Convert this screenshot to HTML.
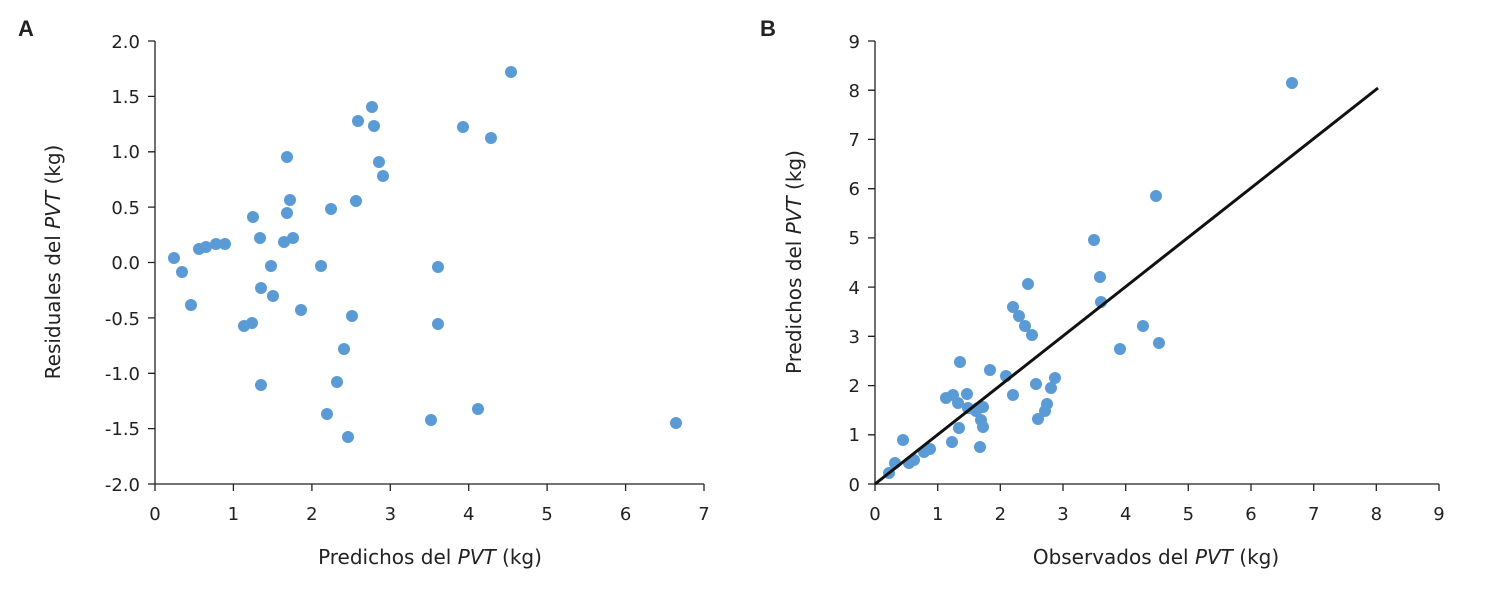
<!DOCTYPE html>
<html><head><meta charset="utf-8"><style>
html,body{margin:0;padding:0;background:#fff}
svg text{font-family:"DejaVu Sans","Liberation Sans",sans-serif;fill:#222}
</style></head><body>
<svg width="1487" height="585" viewBox="0 0 1487 585" xmlns="http://www.w3.org/2000/svg">
<g font-size="18">
<text x="18" y="36" font-weight="bold" font-size="22" style="font-family:'Liberation Sans',sans-serif">A</text>
<text x="760" y="36" font-weight="bold" font-size="22" style="font-family:'Liberation Sans',sans-serif">B</text>
</g>
<!-- Panel A axes -->
<g stroke="#222" stroke-width="1.3" fill="none">
<line x1="155" y1="41" x2="155" y2="484"/>
<line x1="155" y1="484" x2="704" y2="484"/>
<path d="M148 41H155M148 96.4H155M148 151.8H155M148 207.1H155M148 262.5H155M148 317.9H155M148 373.3H155M148 428.6H155M148 484H155"/>
<path d="M155 484V491M233.4 484V491M311.9 484V491M390.3 484V491M468.7 484V491M547.1 484V491M625.6 484V491M704 484V491"/>
</g>
<g font-size="18" text-anchor="end">
<text x="140" y="48">2.0</text><text x="140" y="103">1.5</text><text x="140" y="158">1.0</text><text x="140" y="214">0.5</text><text x="140" y="269">0.0</text><text x="140" y="325">-0.5</text><text x="140" y="380">-1.0</text><text x="140" y="435">-1.5</text><text x="140" y="491">-2.0</text>
</g>
<g font-size="18" text-anchor="middle">
<text x="155" y="520">0</text><text x="233.4" y="520">1</text><text x="311.9" y="520">2</text><text x="390.3" y="520">3</text><text x="468.7" y="520">4</text><text x="547.1" y="520">5</text><text x="625.6" y="520">6</text><text x="704" y="520">7</text>
<text x="430" y="564" font-size="20">Predichos del <tspan font-style="italic">PVT</tspan> (kg)</text>
<text transform="translate(60 262) rotate(-90)" font-size="20">Residuales del <tspan font-style="italic">PVT</tspan> (kg)</text>
</g>
<g fill="#5b9bd5">
<circle cx="174" cy="258" r="6"/><circle cx="182" cy="272" r="6"/><circle cx="191" cy="305" r="6"/><circle cx="199" cy="249" r="6"/><circle cx="206" cy="247" r="6"/><circle cx="216" cy="244" r="6"/><circle cx="225" cy="244" r="6"/><circle cx="244" cy="326" r="6"/><circle cx="253" cy="217" r="6"/><circle cx="252" cy="323" r="6"/><circle cx="260" cy="238" r="6"/><circle cx="261" cy="288" r="6"/><circle cx="261" cy="385" r="6"/><circle cx="271" cy="266" r="6"/><circle cx="273" cy="296" r="6"/><circle cx="284" cy="242" r="6"/><circle cx="287" cy="213" r="6"/><circle cx="287" cy="157" r="6"/><circle cx="290" cy="200" r="6"/><circle cx="293" cy="238" r="6"/><circle cx="301" cy="310" r="6"/><circle cx="321" cy="266" r="6"/><circle cx="331" cy="209" r="6"/><circle cx="327" cy="414" r="6"/><circle cx="337" cy="382" r="6"/><circle cx="344" cy="349" r="6"/><circle cx="348" cy="437" r="6"/><circle cx="352" cy="316" r="6"/><circle cx="356" cy="201" r="6"/><circle cx="358" cy="121" r="6"/><circle cx="372" cy="107" r="6"/><circle cx="374" cy="126" r="6"/><circle cx="379" cy="162" r="6"/><circle cx="383" cy="176" r="6"/><circle cx="431" cy="420" r="6"/><circle cx="438" cy="267" r="6"/><circle cx="438" cy="324" r="6"/><circle cx="463" cy="127" r="6"/><circle cx="478" cy="409" r="6"/><circle cx="491" cy="138" r="6"/><circle cx="511" cy="72" r="6"/><circle cx="676" cy="423" r="6"/>
</g>
<!-- Panel B axes -->
<g stroke="#222" stroke-width="1.3" fill="none">
<line x1="875" y1="41" x2="875" y2="484"/>
<line x1="875" y1="484" x2="1439" y2="484"/>
<path d="M868 41H875M868 90.2H875M868 139.4H875M868 188.7H875M868 237.9H875M868 287.1H875M868 336.3H875M868 385.6H875M868 434.8H875M868 484H875"/>
<path d="M875 484V491M937.7 484V491M1000.3 484V491M1063 484V491M1125.7 484V491M1188.3 484V491M1251 484V491M1313.7 484V491M1376.3 484V491M1439 484V491"/>
</g>
<g font-size="18" text-anchor="end">
<text x="860" y="48">9</text><text x="860" y="97">8</text><text x="860" y="146">7</text><text x="860" y="195">6</text><text x="860" y="244">5</text><text x="860" y="294">4</text><text x="860" y="343">3</text><text x="860" y="392">2</text><text x="860" y="441">1</text><text x="860" y="491">0</text>
</g>
<g font-size="18" text-anchor="middle">
<text x="875" y="520">0</text><text x="937.7" y="520">1</text><text x="1000.3" y="520">2</text><text x="1063" y="520">3</text><text x="1125.7" y="520">4</text><text x="1188.3" y="520">5</text><text x="1251" y="520">6</text><text x="1313.7" y="520">7</text><text x="1376.3" y="520">8</text><text x="1439" y="520">9</text>
<text x="1156" y="564" font-size="20">Observados del <tspan font-style="italic">PVT</tspan> (kg)</text>
<text transform="translate(801 262) rotate(-90)" font-size="20">Predichos del <tspan font-style="italic">PVT</tspan> (kg)</text>
</g>
<g fill="#5b9bd5">
<circle cx="889" cy="473" r="6"/><circle cx="895" cy="463" r="6"/><circle cx="903" cy="440" r="6"/><circle cx="909" cy="463" r="6"/><circle cx="914" cy="460" r="6"/><circle cx="924" cy="452" r="6"/><circle cx="930" cy="449" r="6"/><circle cx="946" cy="398" r="6"/><circle cx="952" cy="442" r="6"/><circle cx="953" cy="395" r="6"/><circle cx="958" cy="403" r="6"/><circle cx="959" cy="428" r="6"/><circle cx="960" cy="362" r="6"/><circle cx="967" cy="394" r="6"/><circle cx="968" cy="408" r="6"/><circle cx="978" cy="408" r="6"/><circle cx="976" cy="411" r="6"/><circle cx="981" cy="420" r="6"/><circle cx="980" cy="447" r="6"/><circle cx="983" cy="427" r="6"/><circle cx="983" cy="407" r="6"/><circle cx="990" cy="370" r="6"/><circle cx="1006" cy="376" r="6"/><circle cx="1013" cy="395" r="6"/><circle cx="1013" cy="307" r="6"/><circle cx="1019" cy="316" r="6"/><circle cx="1025" cy="326" r="6"/><circle cx="1028" cy="284" r="6"/><circle cx="1032" cy="335" r="6"/><circle cx="1036" cy="384" r="6"/><circle cx="1038" cy="419" r="6"/><circle cx="1045" cy="411" r="6"/><circle cx="1047" cy="404" r="6"/><circle cx="1051" cy="388" r="6"/><circle cx="1055" cy="378" r="6"/><circle cx="1094" cy="240" r="6"/><circle cx="1100" cy="277" r="6"/><circle cx="1101" cy="302" r="6"/><circle cx="1120" cy="349" r="6"/><circle cx="1143" cy="326" r="6"/><circle cx="1156" cy="196" r="6"/><circle cx="1159" cy="343" r="6"/><circle cx="1292" cy="83" r="6"/>
</g>
<line x1="875" y1="484" x2="1378" y2="88" stroke="#111" stroke-width="3"/>
</svg>
</body></html>
